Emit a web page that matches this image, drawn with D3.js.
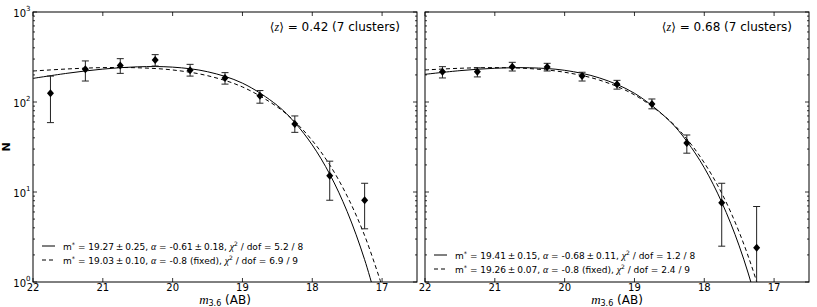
<!DOCTYPE html>
<html lang="en">
<head>
<meta charset="UTF-8">
<title>Luminosity function</title>
<script src="https://d3js.org/d3.v7.min.js"></script>
<style>
  body { margin: 0; background: #fff; }
  text { font-family: "DejaVu Sans", sans-serif; fill: #000; }
  .math { font-family: "Liberation Serif", "DejaVu Serif", serif; font-style: italic; }
</style>
</head>
<body>
<svg id="chart" width="817" height="307"></svg>
<script>
// bin centres (m_3.6, AB)
var mags = [21.75, 21.25, 20.75, 20.25, 19.75, 19.25, 18.75, 18.25, 17.75, 17.25];

// <z> = 0.42 panel
var nLow   = [125, 231, 255, 293, 225, 185, 117, 57, 15.2, 8.1];
var nLowHi = [194, 286, 303, 336, 262, 212, 134, 70, 22, 12.5];
var nLowLo = [59, 171, 208, 251, 194, 158, 97, 46, 8.1, 3.9];

// <z> = 0.68 panel
var nHigh   = [217, 217, 247, 245, 194, 157, 95, 35, 7.6, 2.4];
var nHighHi = [247, 240, 276, 269, 214, 174, 108, 43, 12.5, 6.9];
var nHighLo = [185, 190, 221, 221, 171, 139, 84, 27, 2.5, 0.5];

// fitted curves
var fitMags = [22, 21.5, 21, 20.5, 20, 19.5, 19, 18.5, 18.25, 18, 17.75, 17.5, 17.25, 17];
var fitLowFree  = [183, 209, 232, 246, 244, 217, 162, 91.5, 59, 33.3, 15.8, 6.06, 1.77, 0.37];
var fitLowFixed = [221, 233, 241, 240, 227, 196, 147, 88, 60.5, 37.3, 20, 9.0, 3.28, 0.9];
var fitHighFree  = [203, 223, 237, 240, 225, 185, 125, 61.9, 36.6, 18.6, 7.7, 2.52, 0.6, 0.1];
var fitHighFixed = [227, 237, 241, 235, 214, 175, 120, 62.5, 38.9, 21.1, 9.7, 3.58, 1.01, 0.2];

var xTicks = [22, 21, 20, 19, 18, 17];
var yTicks = [1, 10, 100, 1000];

var svg = d3.select("#chart");
var plotTop = 12, plotBottom = 282;

function drawPanel(x0, x1, id, opt) {
    var x = d3.scaleLinear().domain([22, 16.5]).range([x0, x1]);
    var y = d3.scaleLog().domain([1, 1000]).range([plotBottom, plotTop]);
    var g = svg.append("g");

    g.append("clipPath").attr("id", "clip" + id)
        .append("rect").attr("x", x0).attr("y", plotTop).attr("width", x1 - x0).attr("height", plotBottom - plotTop);

    // ticks, all four sides, pointing inward
    var minor = [];
    [1, 10, 100].forEach(function(d){ for (var k = 2; k < 10; k++) minor.push(d * k); });
    var tk = g.append("g").attr("stroke", "#000").attr("stroke-width", 0.8);
    xTicks.forEach(function(t){
        tk.append("line").attr("x1", x(t)).attr("x2", x(t)).attr("y1", plotBottom).attr("y2", plotBottom - 4);
        tk.append("line").attr("x1", x(t)).attr("x2", x(t)).attr("y1", plotTop).attr("y2", plotTop + 4);
    });
    yTicks.forEach(function(t){
        tk.append("line").attr("x1", x0).attr("x2", x0 + 4).attr("y1", y(t)).attr("y2", y(t));
        tk.append("line").attr("x1", x1).attr("x2", x1 - 4).attr("y1", y(t)).attr("y2", y(t));
    });
    minor.forEach(function(t){
        tk.append("line").attr("x1", x0).attr("x2", x0 + 2).attr("y1", y(t)).attr("y2", y(t));
        tk.append("line").attr("x1", x1).attr("x2", x1 - 2).attr("y1", y(t)).attr("y2", y(t));
    });

    // x tick labels
    g.selectAll(".xl").data(xTicks).enter().append("text")
        .attr("x", function(d){ return x(d); })
        .attr("y", plotBottom + 9)
        .attr("text-anchor", "middle")
        .style("font-size", "10px")
        .text(function(d){ return d; });

    // y tick labels (left panel only)
    if (opt.yLabels) {
        yTicks.forEach(function(t, i){
            g.append("text")
                .attr("x", x0 - 7).attr("y", y(t) + 5)
                .attr("text-anchor", "end")
                .style("font-size", "10px")
                .text("10");
            g.append("text").attr("x", x0 - 7).attr("y", y(t) - 1)
                .style("font-size", "7px").text(i);
        });
        svg.append("text")
            .attr("transform", "translate(10," + ((plotTop + plotBottom) / 2) + ") rotate(-90)")
            .attr("text-anchor", "middle")
            .style("font-size", "11px").style("font-weight", "bold")
            .text("N");
    }

    // x label
    var xl = g.append("text").attr("x", (x0 + x1) / 2).attr("y", plotBottom + 21.5)
        .attr("text-anchor", "middle").style("font-size", "12px");
    xl.append("tspan").attr("class", "math").style("font-size", "13px").text("m");
    xl.append("tspan").attr("dy", 2.5).style("font-size", "8px").text("3.6");
    xl.append("tspan").attr("dy", -2.5).text(" (AB)");

    // fit curves
    var line = d3.line()
        .x(function(d){ return x(d[0]); })
        .y(function(d){ return y(d[1]); })
        .curve(d3.curveCatmullRom.alpha(0.5));
    var curves = g.append("g").attr("clip-path", "url(#clip" + id + ")");
    curves.append("path")
        .attr("d", line(d3.zip(fitMags, opt.free)))
        .attr("fill", "none").attr("stroke", "#000").attr("stroke-width", 1);
    curves.append("path")
        .attr("d", line(d3.zip(fitMags, opt.fixed)))
        .attr("fill", "none").attr("stroke", "#000").attr("stroke-width", 1)
        .attr("stroke-dasharray", "4,3");

    // error bars and diamonds
    var pts = curves.selectAll(".pt").data(mags).enter().append("g");
    pts.append("line")
        .attr("x1", function(d){ return x(d); }).attr("x2", function(d){ return x(d); })
        .attr("y1", function(d, i){ return y(opt.hi[i]); })
        .attr("y2", function(d, i){ return y(opt.lo[i]); })
        .attr("stroke", "#222").attr("stroke-width", 1);
    ["hi", "lo"].forEach(function(k){
        pts.append("line")
            .attr("x1", function(d){ return x(d) - 3.5; }).attr("x2", function(d){ return x(d) + 3.5; })
            .attr("y1", function(d, i){ return y(opt[k][i]); })
            .attr("y2", function(d, i){ return y(opt[k][i]); })
            .attr("stroke", "#222").attr("stroke-width", 1);
    });
    pts.append("path")
        .attr("d", function(d, i){
            var cx = x(d), cy = y(opt.n[i]);
            return "M" + cx + "," + (cy - 4) + "L" + (cx + 3.5) + "," + cy +
                   "L" + cx + "," + (cy + 4) + "L" + (cx - 3.5) + "," + cy + "Z";
        })
        .attr("fill", "#000");

    // frame
    g.append("rect").attr("x", x0).attr("y", plotTop).attr("width", x1 - x0).attr("height", plotBottom - plotTop)
        .attr("fill", "none").attr("stroke", "#000").attr("stroke-width", 1);

    // redshift annotation
    var ann = g.append("text").attr("x", x1 - 17).attr("y", 31)
        .attr("text-anchor", "end").style("font-size", "12px");
    ann.append("tspan").text("\u27e8");
    ann.append("tspan").attr("class", "math").text("z");
    ann.append("tspan").text("\u27e9 = " + opt.z + " (7 clusters)");

    // legend
    var lg = g.append("g").attr("transform", "translate(" + x0 + "," + opt.legendY + ")");
    opt.legend.forEach(function(row, i){
        var ly = i * 14;
        lg.append("line").attr("x1", 9).attr("x2", 22).attr("y1", ly).attr("y2", ly)
            .attr("stroke", "#000").attr("stroke-width", 1)
            .attr("stroke-dasharray", i === 1 ? "4,3" : null);
        var t = lg.append("text").attr("x", 30).attr("y", ly + 3.5).style("font-size", "9px");
        t.append("tspan").text("m");
        t.append("tspan").attr("dy", -3).style("font-size", "6.5px").text("*");
        t.append("tspan").attr("dy", 3).text(" = " + row[0] + ", ");
        t.append("tspan").attr("class", "math").style("font-size", "10px").text("\u03b1");
        t.append("tspan").text(" = " + row[1] + ", ");
        t.append("tspan").attr("class", "math").style("font-size", "10px").text("\u03c7");
        t.append("tspan").attr("dy", -4).style("font-size", "6px").text("2");
        t.append("tspan").attr("dy", 4).text("  / dof = " + row[2]);
    });
}

drawPanel(33, 417, "a", {
    n: nLow, hi: nLowHi, lo: nLowLo,
    free: fitLowFree, fixed: fitLowFixed,
    z: "0.42", yLabels: true, legendY: 246,
    legend: [["19.27\u2009\u00b1\u20090.25", "-0.61\u2009\u00b1\u20090.18", "5.2 / 8"],
             ["19.03\u2009\u00b1\u20090.10", "-0.8 (fixed)", "6.9 / 9"]]
});
drawPanel(425, 809, "b", {
    n: nHigh, hi: nHighHi, lo: nHighLo,
    free: fitHighFree, fixed: fitHighFixed,
    z: "0.68", yLabels: false, legendY: 255,
    legend: [["19.41\u2009\u00b1\u20090.15", "-0.68\u2009\u00b1\u20090.11", "1.2 / 8"],
             ["19.26\u2009\u00b1\u20090.07", "-0.8 (fixed)", "2.4 / 9"]]
});
</script>
</body>
</html>
